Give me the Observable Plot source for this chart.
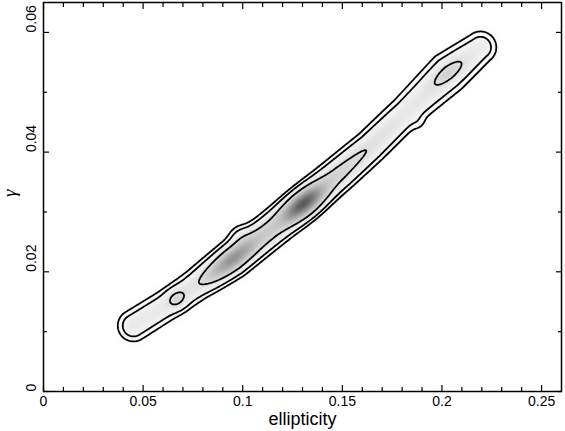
<!DOCTYPE html>
<html>
<head>
<meta charset="utf-8">
<script src="https://cdn.jsdelivr.net/npm/d3@7"></script>
<script src="https://cdn.jsdelivr.net/npm/@observablehq/plot@0.6"></script>
<style>
  html, body { margin: 0; padding: 0; background: #fff; }
  #chart svg { display: block; }
</style>
</head>
<body>
<div id="chart"></div>
<script>
// ---- axes ----
const xDomain = [0, 0.26];
const yDomain = [0, 0.065];
const xMajor = [0, 0.05, 0.1, 0.15, 0.2, 0.25];
const xMajorLabels = ["0", "0.05", "0.1", "0.15", "0.2", "0.25"];
const xMinor = [0.01, 0.02, 0.03, 0.04, 0.06, 0.07, 0.08, 0.09, 0.11, 0.12, 0.13, 0.14,
                0.16, 0.17, 0.18, 0.19, 0.21, 0.22, 0.23, 0.24];
const yMajor = [0, 0.02, 0.04, 0.06];
const yMajorLabels = ["0", "0.02", "0.04", "0.06"];
const yMinor = [0.01, 0.03, 0.05];
const xTitle = "ellipticity";
const yTitle = "γ";

// ---- density ridge (ellipticity, γ, density, width in γ units) ----
const ridgeX     = [0.0452, 0.0668, 0.0773, 0.0949, 0.1129, 0.1305, 0.1491, 0.1641, 0.1817, 0.2033, 0.2193];
const ridgeY     = [0.0110, 0.0155, 0.0180, 0.0221, 0.0267, 0.0314, 0.0366, 0.0409, 0.0466, 0.0533, 0.0575];
const ridgeAmp   = [0.13,   0.13,   0.17,   0.28,   0.30,   0.30,   0.26,   0.19,   0.14,   0.15,   0.12];
const ridgeWidth = [0.00145,0.00140,0.00138,0.00150,0.00142,0.00142,0.00142,0.00142,0.00150,0.00184,0.00150];

// ---- local density peaks (ellipticity, γ, density, along-ridge width, across-ridge width) ----
const peakX      = [0.0668, 0.0949, 0.1305, 0.2033, 0.0989, 0.1882];
const peakY      = [0.0155, 0.0221, 0.0314, 0.0533, 0.0259, 0.0449];
const peakAmp    = [0.13,   0.38,   0.70,   0.12,   0.05,   0.02];
const peakAlong  = [0.00109,0.00300,0.00250,0.00234,0.00117,0.00084];
const peakAcross = [0.00100,0.00100,0.00109,0.00100,0.00117,0.00084];

// contour levels
const levels = [0.025, 0.06, 0.2];

// ellipticity -> γ visual aspect (plot units)
const ASPECT = (yDomain[1] - yDomain[0]) / (xDomain[1] - xDomain[0]) * (518 / 389);

const rx = ridgeX.map(v => v * ASPECT);
const dirX = rx[rx.length - 1] - rx[0], dirY = ridgeY[ridgeY.length - 1] - ridgeY[0];
const dirL = Math.hypot(dirX, dirY);
const cosA = dirX / dirL, sinA = dirY / dirL;

function density(x, y) {
  const X = x * ASPECT, Y = y;
  let best = Infinity, amp = 0, w = 1;
  for (let i = 0; i < rx.length - 1; i++) {
    const ax = rx[i], ay = ridgeY[i], dx = rx[i + 1] - ax, dy = ridgeY[i + 1] - ay;
    let t = ((X - ax) * dx + (Y - ay) * dy) / (dx * dx + dy * dy);
    t = t < 0 ? 0 : t > 1 ? 1 : t;
    const qx = ax + t * dx - X, qy = ay + t * dy - Y;
    const d2 = qx * qx + qy * qy;
    if (d2 < best) {
      best = d2;
      amp = ridgeAmp[i] + t * (ridgeAmp[i + 1] - ridgeAmp[i]);
      w = ridgeWidth[i] + t * (ridgeWidth[i + 1] - ridgeWidth[i]);
    }
  }
  let f = amp * Math.exp(-best / (2 * w * w));
  for (let j = 0; j < peakX.length; j++) {
    const ex = X - peakX[j] * ASPECT, ey = Y - peakY[j];
    const u = ex * cosA + ey * sinA, v = -ex * sinA + ey * cosA;
    f += peakAmp[j] * Math.exp(-(u * u) / (2 * peakAlong[j] ** 2) - (v * v) / (2 * peakAcross[j] ** 2));
  }
  return f;
}

const chart = Plot.plot({
  width: 565,
  height: 431,
  marginLeft: 43,
  marginRight: 4,
  marginTop: 2,
  marginBottom: 40,
  x: {domain: xDomain},
  y: {domain: yDomain},
  color: {type: "linear", domain: [0, 1], range: ["#ffffff", "#5a5a5a"], clamp: true, interpolate: "rgb"},
  style: {fontFamily: "'Liberation Sans', Arial, Helvetica, sans-serif", fontSize: "14px", color: "black", background: "white"},
  marks: [
    Plot.raster({x1: xDomain[0], x2: xDomain[1], y1: yDomain[0], y2: yDomain[1], fill: density, pixelSize: 1, imageRendering: "auto"}),
    Plot.contour({x1: xDomain[0], x2: xDomain[1], y1: yDomain[0], y2: yDomain[1], value: density, thresholds: levels,
                  fill: "none", stroke: "black", strokeWidth: 1.8, pixelSize: 1}),
    Plot.frame({stroke: "black", strokeWidth: 1.5}),
    // major ticks, inward on all four sides
    Plot.axisX({ticks: xMajor, anchor: "bottom", tickSize: 6, dy: -6, tickFormat: () => "", strokeWidth: 1.2, label: null}),
    Plot.axisX({ticks: xMajor, anchor: "top", tickSize: 6, dy: 6, tickFormat: () => "", strokeWidth: 1.2, label: null}),
    Plot.axisX({ticks: xMinor, anchor: "bottom", tickSize: 4, dy: -4, tickFormat: () => "", strokeWidth: 1.2, label: null}),
    Plot.axisX({ticks: xMinor, anchor: "top", tickSize: 4, dy: 4, tickFormat: () => "", strokeWidth: 1.2, label: null}),
    Plot.axisY({ticks: yMajor, anchor: "left", tickSize: 6, dx: 6, tickFormat: () => "", strokeWidth: 1.2, label: null}),
    Plot.axisY({ticks: yMajor, anchor: "right", tickSize: 6, dx: -6, tickFormat: () => "", strokeWidth: 1.2, label: null}),
    Plot.axisY({ticks: yMinor, anchor: "left", tickSize: 4, dx: 4, tickFormat: () => "", strokeWidth: 1.2, label: null}),
    Plot.axisY({ticks: yMinor, anchor: "right", tickSize: 4, dx: -4, tickFormat: () => "", strokeWidth: 1.2, label: null}),
    // tick labels
    Plot.text(xMajor, {x: d => d, text: (d, i) => xMajorLabels[i], frameAnchor: "bottom", dy: 14, fontSize: 14}),
    Plot.text(yMajor, {y: d => d, text: (d, i) => yMajorLabels[i], frameAnchor: "left", dx: -12, rotate: -90, fontSize: 14}),
    // axis titles
    Plot.text([xTitle], {frameAnchor: "bottom", dy: 33, fontSize: 18}),
    Plot.text([yTitle], {frameAnchor: "left", dx: -34, rotate: -90, fontSize: 19, fontFamily: "'Liberation Serif', serif", fontStyle: "italic"})
  ]
});
document.getElementById("chart").appendChild(chart);
</script>
</body>
</html>
